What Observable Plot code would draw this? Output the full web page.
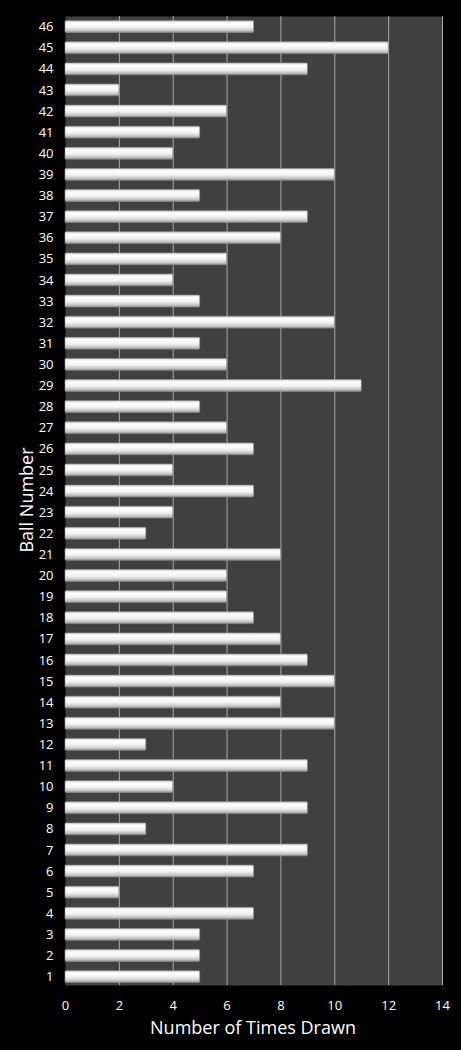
<!DOCTYPE html>
<html>
<head>
<meta charset="utf-8">
<script src="https://cdn.jsdelivr.net/npm/d3@7"></script>
<script src="https://cdn.jsdelivr.net/npm/@observablehq/plot@0.6"></script>
<style>
  body { margin: 0; background: #000; }
</style>
</head>
<body>
<div id="chart"></div>
<script>
// ball numbers and how many times each one was drawn
let balls = d3.range(1, 47);
let timesDrawn = [5, 5, 5, 7, 2, 7, 9, 3, 9, 4,
                  9, 3, 10, 8, 10, 9, 8, 7, 6, 6,
                  8, 3, 4, 7, 4, 7, 6, 5, 11, 6,
                  5, 10, 5, 4, 6, 8, 9, 5, 10, 4,
                  5, 6, 2, 9, 12, 7];
let xTicks = [0, 2, 4, 6, 8, 10, 12, 14];

const data = balls.map((b, i) => ({ ball: b, count: timesDrawn[i] }));

let chart = Plot.plot({
  width: 461,
  height: 1050,
  marginLeft: 65,
  marginRight: 19,
  marginTop: 16,
  marginBottom: 65,
  style: {
    background: "#000",
    color: "white",
    fontFamily: "Open Sans, sans-serif",
    fontSize: "13px",
  },
  x: { domain: [0, 14], axis: null },
  y: {
    domain: balls.slice().reverse(),
    paddingInner: 0.44,
    paddingOuter: 0.17,
    align: 0.65,
    round: false,
    axis: null,
  },
  marks: [
    Plot.frame({ fill: "#404040", stroke: null }),
    Plot.ruleX(xTicks.slice(1), { stroke: "#a8a8a8", strokeWidth: 1 }),
    Plot.barX(data, {
      x: "count",
      y: "ball",
      fill: "url(#barShine)",
      stroke: "#9a9a9a",
      strokeWidth: 0.6,
      rx: 1,
    }),
    Plot.axisX({
      ticks: xTicks,
      tickSize: 0,
      tickPadding: 15,
      line: true,
      stroke: "#8c8c8c",
      fill: "white",
      label: null,
    }),
    Plot.axisY({
      tickSize: 0,
      tickPadding: 12,
      line: true,
      stroke: "#8c8c8c",
      fill: "white",
      label: null,
    }),
  ],
});

// gradient for the shiny bars
const svg = d3.select(chart);
const grad = svg.insert("defs", ":first-child")
  .append("linearGradient")
  .attr("id", "barShine")
  .attr("x1", 0).attr("y1", 0).attr("x2", 0).attr("y2", 1);
grad.append("stop").attr("offset", "0%").attr("stop-color", "#cfcfcf");
grad.append("stop").attr("offset", "20%").attr("stop-color", "#ffffff");
grad.append("stop").attr("offset", "55%").attr("stop-color", "#f2f2f2");
grad.append("stop").attr("offset", "85%").attr("stop-color", "#c4c4c4");
grad.append("stop").attr("offset", "100%").attr("stop-color", "#8a8a8a");

// axis titles
svg.append("text")
  .attr("x", 253).attr("y", 1034)
  .attr("text-anchor", "middle")
  .attr("fill", "white")
  .style("font-family", "Open Sans, sans-serif")
  .style("font-size", "18px")
  .text("Number of Times Drawn");

svg.append("text")
  .attr("transform", "translate(33,500) rotate(-90)")
  .attr("text-anchor", "middle")
  .attr("fill", "white")
  .style("font-family", "Open Sans, sans-serif")
  .style("font-size", "18px")
  .text("Ball Number");

d3.select("#chart").append(() => chart);
</script>
</body>
</html>
